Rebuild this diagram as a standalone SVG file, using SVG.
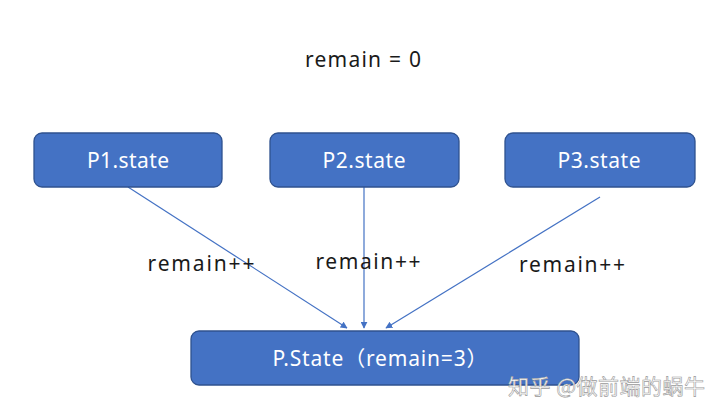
<svg xmlns="http://www.w3.org/2000/svg" width="720" height="419" viewBox="0 0 720 419">
<style>
.box{fill:#4472C4;stroke:#2F528F;stroke-width:1.3}
.bt{font-family:"Noto Sans","Noto Sans CJK SC",sans-serif;font-size:21px;fill:#ffffff;text-anchor:middle}
.lt{font-family:"Noto Sans","Noto Sans CJK SC",sans-serif;font-size:21px;fill:#1a1a1a;text-anchor:middle}
.ln{stroke:#4472C4;stroke-width:1.2;fill:none}
.wm{font-family:"Noto Sans CJK SC",sans-serif;font-size:21px;fill:#ffffff;stroke:#9a9a9a;stroke-width:0.6}
</style>
<defs>
<marker id="ah" viewBox="0 0 10 10" refX="9" refY="5" markerWidth="7" markerHeight="7" orient="auto" markerUnits="userSpaceOnUse"><path d="M0,0 L10,5 L0,10 z" fill="#4472C4"/></marker>
</defs>
<rect width="720" height="419" fill="#ffffff"/>
<text class="lt" x="363" y="67" textLength="116" lengthAdjust="spacing">remain = 0</text>
<g id="connectors">
<line class="ln" x1="128" y1="187" x2="347" y2="328" marker-end="url(#ah)"/>
<line class="ln" x1="364" y1="187" x2="364" y2="328" marker-end="url(#ah)"/>
<line class="ln" x1="600" y1="197" x2="386" y2="328" marker-end="url(#ah)"/>
<text class="lt" x="201" y="271" textLength="107" lengthAdjust="spacing">remain++</text>
<text class="lt" x="368" y="269" textLength="105" lengthAdjust="spacing">remain++</text>
<text class="lt" x="572" y="272" textLength="106" lengthAdjust="spacing">remain++</text>
</g>
<g id="p1"><rect class="box" x="34" y="133" width="188" height="54" rx="8"/><text class="bt" x="128" y="168" textLength="82" lengthAdjust="spacing">P1.state</text></g>
<g id="p2"><rect class="box" x="270" y="133" width="189" height="54" rx="8"/><text class="bt" x="364" y="168" textLength="83" lengthAdjust="spacing">P2.state</text></g>
<g id="p3"><rect class="box" x="505" y="133" width="190" height="54" rx="8"/><text class="bt" x="599" y="168" textLength="83" lengthAdjust="spacing">P3.state</text></g>
<g id="p"><rect class="box" x="191" y="331" width="388" height="54" rx="8"/><text class="bt" x="380" y="366" textLength="215" lengthAdjust="spacing">P.State（remain=3）</text></g>
<text class="wm" x="508" y="394" textLength="197" lengthAdjust="spacing">知乎 @做前端的蜗牛</text>
</svg>
